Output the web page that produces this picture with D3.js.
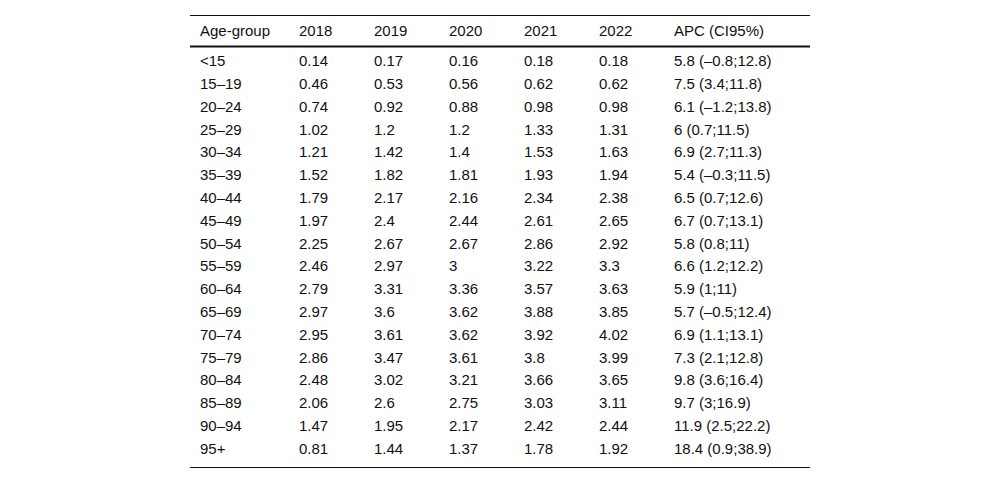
<!DOCTYPE html>
<html>
<head>
<meta charset="utf-8">
<script src="https://cdn.jsdelivr.net/npm/d3@7"></script>
<style>
  html, body { margin: 0; padding: 0; background: #fff; }
  svg { display: block; }
  text { font-family: "Liberation Sans", Arial, Helvetica, sans-serif; font-size: 15px; fill: #111; }
</style>
</head>
<body>
<svg id="chart" width="1000" height="484"></svg>
<script>
const columns = ["Age-group", "2018", "2019", "2020", "2021", "2022", "APC (CI95%)"];
const ageGroups = ["<15", "15–19", "20–24", "25–29", "30–34", "35–39", "40–44", "45–49", "50–54", "55–59", "60–64", "65–69", "70–74", "75–79", "80–84", "85–89", "90–94", "95+"];
const v2018 = ["0.14", "0.46", "0.74", "1.02", "1.21", "1.52", "1.79", "1.97", "2.25", "2.46", "2.79", "2.97", "2.95", "2.86", "2.48", "2.06", "1.47", "0.81"];
const v2019 = ["0.17", "0.53", "0.92", "1.2", "1.42", "1.82", "2.17", "2.4", "2.67", "2.97", "3.31", "3.6", "3.61", "3.47", "3.02", "2.6", "1.95", "1.44"];
const v2020 = ["0.16", "0.56", "0.88", "1.2", "1.4", "1.81", "2.16", "2.44", "2.67", "3", "3.36", "3.62", "3.62", "3.61", "3.21", "2.75", "2.17", "1.37"];
const v2021 = ["0.18", "0.62", "0.98", "1.33", "1.53", "1.93", "2.34", "2.61", "2.86", "3.22", "3.57", "3.88", "3.92", "3.8", "3.66", "3.03", "2.42", "1.78"];
const v2022 = ["0.18", "0.62", "0.98", "1.31", "1.63", "1.94", "2.38", "2.65", "2.92", "3.3", "3.63", "3.85", "4.02", "3.99", "3.65", "3.11", "2.44", "1.92"];
const apc = ["5.8 (–0.8;12.8)", "7.5 (3.4;11.8)", "6.1 (–1.2;13.8)", "6 (0.7;11.5)", "6.9 (2.7;11.3)", "5.4 (–0.3;11.5)", "6.5 (0.7;12.6)", "6.7 (0.7;13.1)", "5.8 (0.8;11)", "6.6 (1.2;12.2)", "5.9 (1;11)", "5.7 (–0.5;12.4)", "6.9 (1.1;13.1)", "7.3 (2.1;12.8)", "9.8 (3.6;16.4)", "9.7 (3;16.9)", "11.9 (2.5;22.2)", "18.4 (0.9;38.9)"];

const rows = ageGroups.map((g, i) => [g, v2018[i], v2019[i], v2020[i], v2021[i], v2022[i], apc[i]]);

const svg = d3.select("#chart");
const left = 190, right = 810;

// column x positions
const colLeft = [200, 299, 374, 449, 524, 599, 674];
const x = d3.scaleOrdinal().domain(columns).range(colLeft);

// row y scale
const y = d3.scaleBand().domain(d3.range(rows.length)).range([49.5, 460]).paddingInner(0).paddingOuter(0);

// lines
svg.append("line").attr("x1", left).attr("x2", right).attr("y1", 15.5).attr("y2", 15.5)
  .attr("stroke", "#111").attr("stroke-width", 1);
svg.append("line").attr("x1", left).attr("x2", right).attr("y1", 46.5).attr("y2", 46.5)
  .attr("stroke", "#111").attr("stroke-width", 2);
svg.append("line").attr("x1", left).attr("x2", right).attr("y1", 467.5).attr("y2", 467.5)
  .attr("stroke", "#111").attr("stroke-width", 1);

// header
svg.append("g").selectAll("text").data(columns).join("text")
  .attr("x", d => x(d))
  .attr("y", 31)
  .attr("dy", "0.35em")
  .text(d => d);

// body
const rowG = svg.append("g").selectAll("g").data(rows).join("g")
  .attr("transform", (d, i) => `translate(0,${y(i) + y.bandwidth() / 2})`);
rowG.selectAll("text").data(d => d.map((v, j) => ({ v, col: columns[j] }))).join("text")
  .attr("x", d => x(d.col))
  .attr("y", 0)
  .attr("dy", "0.35em")
  .text(d => d.v);
</script>
</body>
</html>
